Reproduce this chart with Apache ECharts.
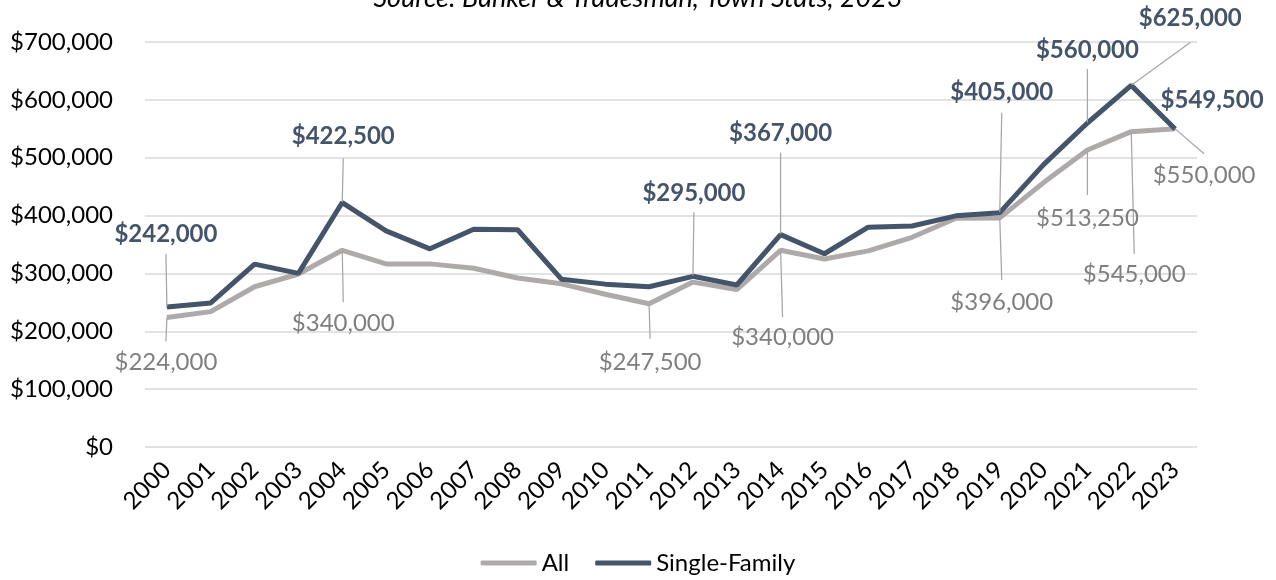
<!DOCTYPE html>
<html>
<head>
<meta charset="utf-8">
<script src="https://cdn.jsdelivr.net/npm/echarts@6/dist/echarts.min.js"></script>
<style>
  html, body { margin: 0; padding: 0; background: #fff; }
  #chart { width: 1276px; height: 580px; }
</style>
</head>
<body>
<div id="chart"></div>
<script>
var years = ['2000', '2001', '2002', '2003', '2004', '2005', '2006', '2007', '2008', '2009', '2010', '2011',
  '2012', '2013', '2014', '2015', '2016', '2017', '2018', '2019', '2020', '2021', '2022', '2023']
var allValues = [224000, 234000, 277000, 299000, 340000, 316500, 316500, 309000, 292000, 282000, 264000, 247500,
  285000, 272000, 340000, 325000, 339000, 362500, 395500, 396000, 457000, 513250, 545000, 550000]
var singleFamilyValues = [242000, 249000, 316000, 300000, 422500, 373500, 342500, 376500, 375500, 290000, 281500, 277000,
  295000, 280000, 367000, 334000, 380000, 382000, 399500, 405000, 488000, 560000, 625000, 549500]

// which points carry a label: [dx, dy] text centre from the point, gap before the leader line, side spacer
var allLabels = { 0: [-1, 45, 9, 0], 4: [1, 73, 9, 0], 11: [1, 58, 11, 0], 14: [2, 87, 8, 0], 19: [2, 84, 10, 0], 21: [0, 68, 11, 0], 22: [3, 143, 9, 0], 23: [29, 46, 9, 0] }
var sfLabels = { 0: [-1, -73, 8, 0], 4: [1, -66, 10, 0], 12: [1, -83, 7, 0], 14: [0, -101, 7, 0], 19: [2, -120, 8, 0], 21: [0, -73, 7, 0], 22: [59, -67, 12, 200], 23: [37, -29, 0, 0] }

function money(v) {
  return '$' + Number(v).toLocaleString('en-US')
}

function buildData(values, labels, color, bold) {
  return values.map(function (v, i) {
    var cfg = labels[i]
    if (!cfg) return v
    var g = cfg[2]
    var side = cfg[3] ? '{h| }' : ''
    var txt = side + '{v|' + money(v) + '}' + side
    if (g > 0) txt = cfg[1] < 0 ? txt + '\n{s| }' : '{s| }\n' + txt
    return {
      value: v,
      label: {
        show: true,
        formatter: txt,
        rich: {
          v: { fontFamily: 'Lato', fontSize: 24, color: color, fontWeight: bold ? 'bold' : 'normal' },
          s: { fontSize: 1, height: g, lineHeight: g },
          h: { fontSize: 1, width: cfg[3] }
        }
      },
      labelLine: { show: g > 0 }
    }
  })
}

function layoutFor(labels) {
  return function (p) {
    var cfg = labels[p.dataIndex]
    if (!cfg) return {}
    var g = cfg[2]
    return { dx: cfg[0], dy: cfg[1] + (cfg[1] < 0 ? g / 2 : -g / 2) }
  }
}

var chart = echarts.init(document.getElementById('chart'))
chart.setOption({
  animation: false,
  backgroundColor: '#ffffff',
  textStyle: { fontFamily: 'Lato' },
  title: {
    text: 'Source: Banker & Tradesman, Town Stats, 2023',
    left: 'center',
    top: -20,
    textStyle: { fontFamily: 'Lato', fontStyle: 'italic', fontWeight: 'normal', fontSize: 27, color: '#000' }
  },
  legend: {
    bottom: 0,
    left: 'center',
    icon: 'roundRect',
    itemWidth: 56,
    itemHeight: 5,
    itemGap: 26,
    textStyle: { fontFamily: 'Lato', fontSize: 24, color: '#000' },
    data: ['All', 'Single-Family']
  },
  grid: { left: 145, right: 79, top: 42, bottom: 133, containLabel: false, outerBoundsMode: 'none' },
  xAxis: {
    type: 'category',
    data: years,
    boundaryGap: true,
    axisLine: { show: false },
    axisTick: { show: false },
    axisLabel: { rotate: 45, margin: 19, fontFamily: 'Lato', fontSize: 24, color: '#000', interval: 0 }
  },
  yAxis: {
    type: 'value',
    min: 0,
    max: 700000,
    interval: 100000,
    axisLine: { show: false },
    axisTick: { show: false },
    axisLabel: { margin: 32, fontFamily: 'Lato', fontSize: 24, color: '#000', formatter: money },
    splitLine: { lineStyle: { color: '#D9D9D9', width: 1.5 } }
  },
  series: [
    {
      name: 'All',
      type: 'line',
      data: buildData(allValues, allLabels, '#7F7F7F', false),
      symbol: 'circle',
      symbolSize: 1,
      itemStyle: { color: '#AEAAAA' },
      lineStyle: { color: '#AEAAAA', width: 5 },
      label: { show: false, position: 'inside' },
      labelLine: { show: true, lineStyle: { color: '#A6A6A6', width: 1.25 } },
      labelLayout: layoutFor(allLabels),
      emphasis: { disabled: true }
    },
    {
      name: 'Single-Family',
      type: 'line',
      data: buildData(singleFamilyValues, sfLabels, '#44546A', true),
      symbol: 'circle',
      symbolSize: 1,
      itemStyle: { color: '#44546A' },
      lineStyle: { color: '#44546A', width: 5 },
      label: { show: false, position: 'inside' },
      labelLine: { show: true, lineStyle: { color: '#A6A6A6', width: 1.25 } },
      labelLayout: layoutFor(sfLabels),
      emphasis: { disabled: true }
    }
  ]
})
</script>
</body>
</html>
